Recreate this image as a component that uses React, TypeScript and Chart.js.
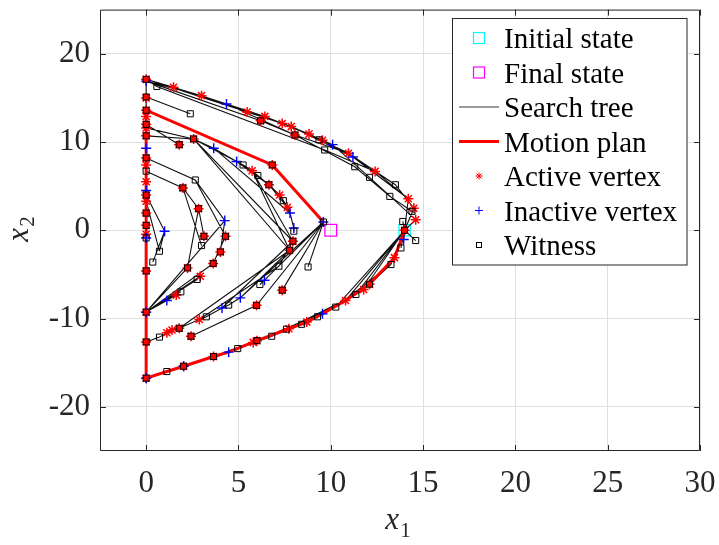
import React, { useEffect, useRef } from "react";
import { Chart, registerables } from "chart.js";

Chart.register(...registerables);

// ---------- axes ----------
const xRange = [-2.5, 30];
const yRange = [-25, 25];
const xTickValues = [0, 5, 10, 15, 20, 25, 30];
const yTickValues = [-20, -10, 0, 10, 20];

// ---------- legend ----------
const legendLabels = [
  "Initial state",
  "Final state",
  "Search tree",
  "Motion plan",
  "Active vertex",
  "Inactive vertex",
  "Witness",
];

// ---------- states ----------
const initialStateX = [14];
const initialStateY = [0];
const finalStateX = [10];
const finalStateY = [0];

// ---------- motion plan ----------
const motionPlanX = [14, 13.45, 12.1, 10.8, 9.55, 8.7, 7.73, 6.0, 4.47, 3.65, 2.03, 1.12, 0, 0, 0, 6.83, 9.6];
const motionPlanY = [0, -3.1, -6.1, -7.95, -9.45, -10.4, -11.15, -12.5, -13.8, -14.3, -15.4, -16.0, -16.75, -9.27, 13.6, 7.4, 0.94];

// ---------- active vertices ----------
const activeX = [
  0, 1.48, 3.0, 5.47, 6.43, 6.2, 7.37, 7.86, 8.06, 8.82, 9.55, 10.96, 12.4, 14.2, 14.5, 14.6, 14.0,
  0, 0, 0, 0, 0, 0, 0, 0, 0, 0, 0, 0, 0, 0, 0, 0, 0, 0,
  1.79, 2.57, 5.74, 6.65, 7.23, 7.65, 7.95, 7.77, 1.99, 2.84, 4.3, 3.13, 4.02, 2.24, 3.63, 2.93, 1.63,
  1.12, 1.4, 1.79, 2.43, 2.88, 5.98, 7.37, 6.83,
  13.45, 12.1, 11.78, 10.8, 8.7, 7.73, 6.0, 3.65, 2.03, 5.8,
];
const activeY = [
  17.1, 16.2, 15.25, 13.4, 12.9, 12.4, 12.1, 11.75, 10.8, 10.9, 10.2, 8.73, 6.67, 3.58, 2.5, 1.2, 0,
  15.0, 13.6, 12.9, 12.0, 11.6, 10.7, 8.2, 7.4, 5.5, 4.0, 3.3, 1.95, 0.56, -0.45, -4.6, -9.27, -12.65, -16.75,
  9.7, 10.35, 6.75, 5.16, 4.0, 2.6, -1.24, -2.26, 4.8, 2.45, -0.68, -0.68, -2.45, -4.26, -3.76, -5.2, -7.34,
  -11.6, -11.3, -11.1, -12.0, -10.1, -8.5, -6.78, 7.4,
  -3.1, -6.1, -6.7, -7.95, -10.4, -11.15, -12.5, -14.3, -15.4, -12.7,
];

// ---------- inactive vertices ----------
const inactiveX = [0, 4.35, 10.1, 11.2, 13.95, 3.66, 4.9, 7.79, 8.0, 9.6, 4.26, 1.0, 1.12, 4.11, 5.1, 6.41, 9.55, 4.47, 2.03, 0, 0, 0, 0, 0];
const inactiveY = [16.9, 14.3, 9.7, 8.3, -1.05, 9.3, 7.8, 1.96, 0.26, 0.94, 1.1, -0.1, -7.95, -8.8, -7.65, -5.65, -9.45, -13.8, -15.4, -16.75, 9.3, -0.87, 4.5, -9.27];

// ---------- witnesses ----------
const witnessX = [
  0, 0.58, 6.2, 8.06, 9.36, 9.67, 11.3, 12.1, 13.5, 13.2, 14.4, 13.9, 14.6, 13.8, 14,
  0, 0, 0, 0, 0, 0, 0, 0, 0, 0, 0, 0, 0, 0,
  2.39, 1.79, 2.57, 5.25, 6.05, 6.65, 7.43, 8.0, 7.95, 7.77, 2.66, 1.99, 2.84, 4.3, 3.13, 3.0, 4.02, 0.72, 0.36,
  2.24, 3.63, 2.76, 1.88, 0.72, 2.43, 1.79, 3.26, 4.47, 5.98, 6.16, 7.37, 7.19, 8.77, 9.6, 6.83,
  1.12, 2.03, 3.65, 4.96, 6.0, 6.8, 7.6, 8.42, 9.28, 10.27, 11.36, 12.1, 13.26,
];
const witnessY = [
  17.1, 16.3, 12.4, 10.8, 10.25, 9.1, 7.2, 6.0, 5.16, 3.84, 2.15, 1.0, -1.16, -2.0, 0,
  15.1, 13.6, 12.0, 10.7, 8.2, 6.7, 4.0, 1.95, 0.56, -0.87, -4.6, -9.27, -12.65, -16.75,
  13.2, 9.7, 10.35, 7.4, 6.2, 5.16, 3.36, -0.1, -1.24, -2.26, 5.7, 4.8, 2.45, -0.68, -0.68, -1.73, -2.45, -2.37, -3.6,
  -4.26, -3.76, -5.57, -6.97, -12.1, -12.0, -11.1, -9.8, -8.47, -8.5, -6.14, -6.78, -4.07, -4.15, 0.94, 7.4,
  -16.0, -15.4, -14.3, -13.4, -12.5, -12.0, -11.2, -10.65, -9.8, -8.7, -7.27, -6.1, -3.88,
];

// ---------- search tree (branches as vertex chains) ----------
const treeBranches: number[][][] = [
  // upper arc
  [[0, 17.1], [3.0, 15.25], [6.43, 12.9], [8.82, 10.9], [10.96, 8.73], [12.4, 6.67], [14.2, 3.58], [14.0, 0]],
  [[0, 17.1], [1.48, 16.2], [4.35, 14.3], [7.37, 12.1], [9.55, 10.2], [11.2, 8.3], [13.5, 5.16], [14.5, 2.5], [14.0, 0]],
  [[0, 17.1], [5.47, 13.4], [7.86, 11.75], [10.1, 9.7], [12.1, 6.0], [14.6, 1.2], [14.0, 0]],
  [[0, 16.9], [6.2, 12.4], [8.06, 10.8], [11.3, 7.2], [13.2, 3.84], [14.4, 2.15]],
  [[0, 17.1], [0.58, 16.3], [9.67, 9.1], [12.4, 6.67]],
  [[0, 17.1], [4.35, 14.3], [8.06, 10.8], [10.96, 8.73], [13.5, 5.16]],
  [[0, 16.9], [3.0, 15.25], [7.86, 11.75], [11.2, 8.3], [14.2, 3.58]],
  [[9.36, 10.25], [8.82, 10.9]],
  [[14.0, 0], [13.9, 1.0]],
  [[14.0, 0], [14.6, -1.16]],
  [[14.0, 0], [13.95, -1.05]],
  [[14.0, 0], [13.8, -2.0]],
  // lower arc
  [[14.0, 0], [13.45, -3.1], [12.1, -6.1], [10.8, -7.95], [9.55, -9.45], [8.7, -10.4], [7.73, -11.15], [6.0, -12.5], [4.47, -13.8], [3.65, -14.3], [2.03, -15.4], [1.12, -16.0], [0, -16.75]],
  [[14.0, 0], [13.26, -3.88], [11.78, -6.7], [10.27, -8.7], [9.28, -9.8], [8.42, -10.65], [7.6, -11.2], [6.8, -12.0], [4.96, -13.4], [2.03, -15.4]],
  [[14.0, 0], [11.36, -7.27], [7.6, -11.2], [3.65, -14.3]],
  [[14.0, 0], [10.8, -7.95], [6.8, -12.0]],
  [[14.0, 0], [10.27, -8.7], [5.8, -12.7]],
  [[14.0, 0], [11.78, -6.7], [8.42, -10.65], [4.96, -13.4]],
  [[13.26, -3.88], [10.27, -8.7]],
  // left column
  [[0, 17.1], [0, -16.75]],
  // inner upper-left
  [[0, 15.1], [2.39, 13.2]],
  [[0, 12.0], [1.79, 9.7]],
  [[0, 11.6], [2.57, 10.35]],
  [[0, 10.7], [2.57, 10.35]],
  [[2.57, 10.35], [3.66, 9.3], [4.9, 7.8], [5.25, 7.4], [5.74, 6.75], [6.05, 6.2], [6.65, 5.16], [7.23, 4.0], [7.43, 3.36], [7.65, 2.6], [7.79, 1.96], [8.0, 0.26]],
  [[2.57, 10.35], [4.9, 7.8], [6.65, 5.16], [7.65, 2.6]],
  [[2.57, 10.35], [7.77, -2.26]],
  [[2.57, 10.35], [7.95, -1.24]],
  [[3.66, 9.3], [7.79, 1.96]],
  [[5.74, 6.75], [7.95, -1.24]],
  [[5.74, 6.75], [7.77, -2.26]],
  [[8.0, 0.26], [8.0, -0.1]],
  [[0, 8.2], [2.66, 5.7], [4.26, 1.1]],
  [[0, 6.7], [1.99, 4.8], [2.84, 2.45], [3.13, -0.68]],
  [[2.66, 5.7], [4.3, -0.68]],
  [[1.99, 4.8], [3.0, -1.73]],
  [[4.26, 1.1], [4.02, -2.45]],
  [[4.3, -0.68], [3.63, -3.76]],
  [[2.84, 2.45], [2.24, -4.26]],
  [[0, 4.0], [1.0, -0.1]],
  [[0, 3.3], [0.72, -2.37]],
  [[1.0, -0.1], [0.36, -3.6]],
  [[1.0, -0.1], [0.72, -2.37]],
  // hub at (0,-9.27)
  [[0, -9.27], [4.26, 1.1]],
  [[0, -9.27], [3.63, -3.76]],
  [[0, -9.27], [2.93, -5.2]],
  [[0, -9.27], [2.76, -5.57]],
  [[0, -9.27], [1.88, -6.97]],
  [[0, -9.27], [1.63, -7.34]],
  [[0, -9.27], [1.12, -7.95]],
  [[0, -9.27], [2.24, -4.26]],
  // fan from (9.6,0.94)
  [[9.6, 0.94], [8.77, -4.15]],
  [[9.6, 0.94], [7.37, -6.78]],
  [[9.6, 0.94], [5.98, -8.5], [2.43, -12.0]],
  [[9.6, 0.94], [5.1, -7.65]],
  [[9.6, 0.94], [6.41, -5.65], [6.16, -6.14]],
  [[9.6, 0.94], [6.83, 7.4]],
  // inner lower chains
  [[7.95, -1.24], [4.11, -8.8]],
  [[7.77, -2.26], [5.1, -7.65]],
  [[7.77, -2.26], [1.79, -11.1]],
  [[7.19, -4.07], [2.88, -10.1]],
  [[7.95, -1.24], [7.19, -4.07]],
  [[5.1, -7.65], [4.47, -8.47], [4.11, -8.8], [3.26, -9.8], [2.88, -10.1], [1.79, -11.1], [1.4, -11.3], [1.12, -11.6], [0.72, -12.1], [0, -12.65]],
];

const tol = 0.12;

function toPoints(xs: number[], ys: number[]) {
  return xs.map((x, i) => ({ x, y: ys[i] }));
}

const matlabPlugin = {
  id: "matlabDecor",
  afterDatasetsDraw(chart: any) {
    const { ctx, chartArea: a, scales } = chart;
    const xs = scales.x;
    const ys = scales.y;
    ctx.save();
    ctx.strokeStyle = "#262626";
    ctx.lineWidth = 1;
    ctx.beginPath();
    ctx.rect(a.left + 0.5, a.top + 0.5, a.right - a.left - 1, a.bottom - a.top - 1);
    ctx.stroke();
    const tl = 6;
    ctx.beginPath();
    for (const v of xTickValues) {
      const px = Math.round(xs.getPixelForValue(v)) + 0.5;
      ctx.moveTo(px, a.bottom);
      ctx.lineTo(px, a.bottom - tl);
      ctx.moveTo(px, a.top);
      ctx.lineTo(px, a.top + tl);
    }
    for (const v of yTickValues) {
      const py = Math.round(ys.getPixelForValue(v)) + 0.5;
      ctx.moveTo(a.left, py);
      ctx.lineTo(a.left + tl, py);
      ctx.moveTo(a.right, py);
      ctx.lineTo(a.right - tl, py);
    }
    ctx.stroke();
    ctx.restore();
  },
  afterDraw(chart: any) {
    const { ctx, chartArea: a } = chart;
    ctx.save();
    // ----- legend -----
    const lx = 452.5, ly = 18.5, lw = 234.5, lh = 246.5;
    ctx.fillStyle = "#ffffff";
    ctx.fillRect(lx, ly, lw, lh);
    ctx.strokeStyle = "#262626";
    ctx.lineWidth = 1;
    ctx.strokeRect(lx, ly, lw, lh);
    const mx = 479;
    const rowY = (i: number) => 38 + i * 34.5;
    ctx.font = '29px "Liberation Serif"';
    ctx.fillStyle = "#000000";
    ctx.textBaseline = "alphabetic";
    ctx.textAlign = "left";
    legendLabels.forEach((t, i) => ctx.fillText(t, 504, rowY(i) + 10));
    // markers
    ctx.lineWidth = 1.2;
    ctx.strokeStyle = "#00ffff";
    ctx.strokeRect(mx - 5.5, rowY(0) - 5.5, 11, 11);
    ctx.strokeStyle = "#ff00ff";
    ctx.strokeRect(mx - 5.5, rowY(1) - 5.5, 11, 11);
    ctx.strokeStyle = "#7a7a7a";
    ctx.lineWidth = 1.5;
    ctx.beginPath();
    ctx.moveTo(459, rowY(2));
    ctx.lineTo(499, rowY(2));
    ctx.stroke();
    ctx.strokeStyle = "#ff0000";
    ctx.lineWidth = 3;
    ctx.beginPath();
    ctx.moveTo(459, rowY(3));
    ctx.lineTo(499, rowY(3));
    ctx.stroke();
    // star
    ctx.lineWidth = 1;
    ctx.strokeStyle = "#ff0000";
    const r = 3.5;
    const cy4 = rowY(4);
    ctx.beginPath();
    for (let k = 0; k < 4; k++) {
      const ang = (k * Math.PI) / 4;
      ctx.moveTo(mx - Math.cos(ang) * r, cy4 - Math.sin(ang) * r);
      ctx.lineTo(mx + Math.cos(ang) * r, cy4 + Math.sin(ang) * r);
    }
    ctx.stroke();
    // plus
    ctx.strokeStyle = "#0000ff";
    const cy5 = rowY(5);
    ctx.beginPath();
    ctx.moveTo(mx - 4, cy5);
    ctx.lineTo(mx + 4, cy5);
    ctx.moveTo(mx, cy5 - 4);
    ctx.lineTo(mx, cy5 + 4);
    ctx.stroke();
    // witness
    ctx.strokeStyle = "#000000";
    ctx.strokeRect(mx - 2.5, rowY(6) - 2.5, 5, 5);

    // ----- axis labels -----
    ctx.fillStyle = "#262626";
    ctx.textBaseline = "alphabetic";
    ctx.textAlign = "left";
    const mainFont = 'italic 31px "Liberation Serif"';
    const subFont = '21px "Liberation Serif"';
    // x1
    ctx.font = mainFont;
    const wx = ctx.measureText("x").width;
    ctx.font = subFont;
    const w1 = ctx.measureText("1").width;
    const cx = (a.left + a.right) / 2 - 2;
    const sx = cx - (wx + w1 + 1) / 2;
    ctx.font = mainFont;
    ctx.fillText("x", sx, 529);
    ctx.font = subFont;
    ctx.fillText("1", sx + wx + 1, 536.5);
    // x2 (rotated)
    ctx.translate(27.5, 229);
    ctx.rotate(-Math.PI / 2);
    ctx.font = mainFont;
    const wx2 = ctx.measureText("x").width;
    ctx.font = subFont;
    const w2 = ctx.measureText("2").width;
    const s2 = -(wx2 + w2 + 1) / 2;
    ctx.font = mainFont;
    ctx.fillText("x", s2, 0);
    ctx.font = subFont;
    ctx.fillText("2", s2 + wx2 + 1, 6.5);
    ctx.restore();
  },
};

function zeroPadding(scale: any) {
  scale.paddingTop = 0;
  scale.paddingBottom = 0;
  scale.paddingLeft = 0;
  scale.paddingRight = 0;
}

export default function App() {
  const canvasRef = useRef<HTMLCanvasElement | null>(null);

  useEffect(() => {
    const canvas = canvasRef.current;
    if (!canvas) return;

    const activePts = toPoints(activeX, activeY);
    const witnessPts = toPoints(witnessX, witnessY);
    const witnessFill = witnessPts.map((w) =>
      activePts.some((p) => Math.abs(p.x - w.x) < tol && Math.abs(p.y - w.y) < tol) ? "#ff0000" : "rgba(0,0,0,0)"
    );
    const treeData: { x: number; y: number | null }[] = [];
    treeBranches.forEach((br) => {
      br.forEach(([x, y]) => treeData.push({ x, y }));
      treeData.push({ x: br[br.length - 1][0], y: null });
    });

    const chart = new Chart(canvas, {
      type: "scatter",
      data: {
        datasets: [
          {
            label: "Witness",
            data: witnessPts,
            pointStyle: "rect",
            pointRadius: 4.3,
            pointBorderWidth: 1,
            borderColor: "#000000",
            pointBorderColor: "#000000",
            pointBackgroundColor: witnessFill,
            backgroundColor: witnessFill,
            showLine: false,
          },
          {
            label: "Inactive vertex",
            data: toPoints(inactiveX, inactiveY),
            pointStyle: "cross",
            pointRadius: 5,
            pointBorderWidth: 1.4,
            borderColor: "#0000ff",
            pointBorderColor: "#0000ff",
            showLine: false,
          },
          {
            label: "Active vertex",
            data: activePts,
            pointStyle: "star",
            pointRadius: 5,
            pointBorderWidth: 1.5,
            borderColor: "#ff0000",
            pointBorderColor: "#ff0000",
            showLine: false,
          },
          {
            label: "Motion plan",
            data: toPoints(motionPlanX, motionPlanY),
            showLine: true,
            borderColor: "#ff0000",
            borderWidth: 3,
            pointRadius: 0,
            fill: false,
          },
          {
            label: "Search tree",
            data: treeData as any,
            showLine: true,
            spanGaps: false,
            borderColor: "#111111",
            borderWidth: 1.1,
            pointRadius: 0,
            fill: false,
          },
          {
            label: "Final state",
            data: toPoints(finalStateX, finalStateY),
            pointStyle: "rect",
            pointRadius: 8.3,
            pointBorderWidth: 1.3,
            borderColor: "#ff00ff",
            pointBorderColor: "#ff00ff",
            pointBackgroundColor: "rgba(0,0,0,0)",
            showLine: false,
          },
          {
            label: "Initial state",
            data: toPoints(initialStateX, initialStateY),
            pointStyle: "rect",
            pointRadius: 8,
            pointBorderWidth: 1.3,
            borderColor: "#00ffff",
            pointBorderColor: "#00ffff",
            pointBackgroundColor: "rgba(0,0,0,0)",
            showLine: false,
          },
        ],
      },
      options: {
        animation: false,
        responsive: false,
        devicePixelRatio: 1,
        events: [],
        layout: { padding: { left: 0, right: 19, top: 7, bottom: 0 } },
        plugins: {
          legend: { display: false },
          tooltip: { enabled: false },
        },
        scales: {
          x: {
            type: "linear",
            min: xRange[0],
            max: xRange[1],
            afterBuildTicks: (scale: any) => {
              scale.ticks = xTickValues.map((v) => ({ value: v }));
            },
            afterFit: (scale: any) => {
              scale.height = 94;
              zeroPadding(scale);
            },
            grid: { color: "#dfdfdf", lineWidth: 1, drawTicks: false },
            border: { display: false },
            ticks: {
              padding: 14,
              color: "#262626",
              font: { family: "Liberation Serif", size: 31 },
              maxRotation: 0,
              autoSkip: false,
            },
          },
          y: {
            type: "linear",
            min: yRange[0],
            max: yRange[1],
            afterBuildTicks: (scale: any) => {
              scale.ticks = yTickValues.map((v) => ({ value: v }));
            },
            afterFit: (scale: any) => {
              scale.width = 100;
              zeroPadding(scale);
            },
            grid: { color: "#dfdfdf", lineWidth: 1, drawTicks: false },
            border: { display: false },
            ticks: {
              padding: 10,
              color: "#262626",
              font: { family: "Liberation Serif", size: 31 },
              autoSkip: false,
            },
          },
        },
      },
      plugins: [matlabPlugin],
    });

    return () => chart.destroy();
  }, []);

  return (
    <div style={{ position: "fixed", left: 0, top: 0, width: 719, height: 545, background: "#ffffff" }}>
      <canvas ref={canvasRef} width={719} height={545} style={{ width: 719, height: 545, display: "block" }} />
    </div>
  );
}
